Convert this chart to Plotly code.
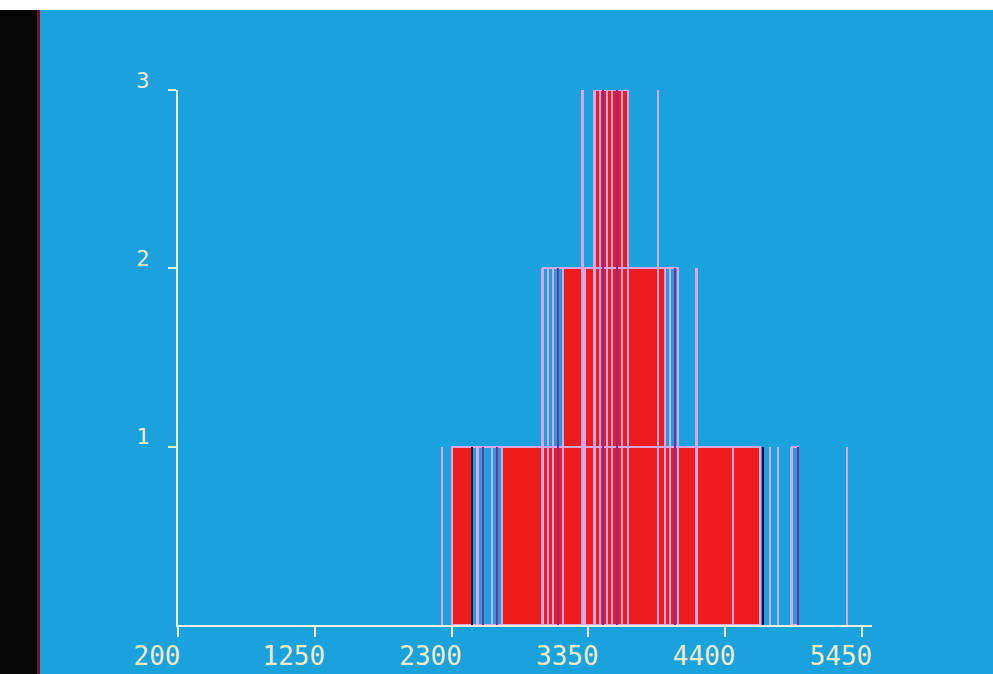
import plotly.graph_objects as go

# ---- data (x in axis units, heights in counts) ----
x_tick_vals = [200, 1250, 2300, 3350, 4400, 5450]
y_tick_vals = [1, 2, 3]

# filled red blocks: left edge, right edge, height
block_left = [2303, 2687, 4460, 3155, 3324, 3400]
block_right = [2456, 4460, 4667, 3324, 3938, 3654]
block_height = [1, 1, 1, 2, 2, 3]

# outline-only groups: left, right, height
outline_left = [2303, 4912, 2999, 3400]
outline_right = [4667, 4958, 4038, 3654]
outline_height = [1, 1, 2, 3]

# thin light lines (value, height)
line_x = [2226, 2303, 2502, 2610, 2687, 4460, 4667, 4744, 4805, 4912, 5335,
          2999, 3040, 3078, 3155, 3324, 3938, 3976, 4038, 4183,
          3308, 3400, 3439, 3493, 3531, 3608, 3654, 3884]
line_h = [1, 1, 1, 1, 1, 1, 1, 1, 1, 1, 1,
          2, 2, 2, 2, 2, 2, 2, 2, 2,
          3, 3, 3, 3, 3, 3, 3, 3]

# purple lines (value, height)
purple_x = [2541, 2648, 4958, 3117, 4015, 3460, 3570]
purple_h = [1, 1, 1, 2, 2, 3, 3]

# very dark lines (value, height)
dark_x = [2456, 4690]
dark_h = [1, 1]

BLUE = "#1aa2dc"
RED = "#ee1c1c"
LAV = "#dba6e6"
PURPLE = "#8a2a9a"
DARK = "#2e0836"
AXIS = "#f3f0dc"
LABEL = "#f1eacb"

fig = go.Figure()

fig.add_trace(go.Bar(
    x=[(l + r) / 2 for l, r in zip(block_left, block_right)],
    width=[r - l for l, r in zip(block_left, block_right)],
    y=block_height, base=0,
    marker=dict(color=RED, line=dict(color=LAV, width=2)),
    hoverinfo="skip", showlegend=False))

fig.add_trace(go.Bar(
    x=[(l + r) / 2 for l, r in zip(outline_left, outline_right)],
    width=[r - l for l, r in zip(outline_left, outline_right)],
    y=outline_height, base=0,
    marker=dict(color="rgba(0,0,0,0)", line=dict(color=LAV, width=2)),
    hoverinfo="skip", showlegend=False))

fig.add_trace(go.Bar(
    x=line_x, y=line_h, base=0, width=[22] * len(line_x),
    marker=dict(color=LAV, line=dict(width=0)),
    hoverinfo="skip", showlegend=False))

fig.add_trace(go.Bar(
    x=purple_x, y=purple_h, base=0, width=[18] * len(purple_x),
    marker=dict(color=PURPLE, line=dict(width=0)),
    hoverinfo="skip", showlegend=False))

fig.add_trace(go.Bar(
    x=dark_x, y=dark_h, base=0, width=[18] * len(dark_x),
    marker=dict(color=DARK, line=dict(width=0)),
    hoverinfo="skip", showlegend=False))

W, H = 993, 674
L, R, T, B = 178, 121, 90, 49
pw, ph = W - L - R, H - T - B


def px_x(p):
    return (p - L) / pw


def px_y(p):
    return (H - B - p) / ph


shapes = [
    # black strip on the left of the screen photo
    dict(type="rect", xref="paper", yref="paper", x0=px_x(0), x1=px_x(38),
         y0=px_y(H), y1=px_y(0), fillcolor="#050505", line=dict(width=0), layer="above"),
    dict(type="rect", xref="paper", yref="paper", x0=px_x(37), x1=px_x(40),
         y0=px_y(H), y1=px_y(10), fillcolor="#7a1010", line=dict(width=0), layer="above"),
    # white band on top
    dict(type="rect", xref="paper", yref="paper", x0=px_x(0), x1=px_x(W),
         y0=px_y(10), y1=px_y(0), fillcolor="#ffffff", line=dict(width=0), layer="above"),
]

fig.update_layout(
    width=W, height=H,
    margin=dict(l=L, r=R, t=T, b=B, autoexpand=False),
    paper_bgcolor=BLUE, plot_bgcolor=BLUE,
    barmode="overlay", bargap=0,
    shapes=shapes,
    font=dict(family="DejaVu Sans Mono", color=LABEL),
    xaxis=dict(range=[200, 5527], tickvals=x_tick_vals,
               ticktext=[str(v) for v in x_tick_vals],
               showgrid=False, zeroline=False, showline=True, linecolor=AXIS, linewidth=2,
               ticks="outside", ticklen=10, tickwidth=2, tickcolor=AXIS,
               tickfont=dict(size=26, color=LABEL, family="DejaVu Sans Mono"),
               ticklabelstandoff=-3, ticklabelshift=-21, fixedrange=True),
    yaxis=dict(range=[0, 3], tickvals=y_tick_vals,
               ticktext=[str(v) for v in y_tick_vals],
               showgrid=False, zeroline=False, showline=True, linecolor=AXIS, linewidth=2,
               ticks="outside", ticklen=8, tickwidth=2, tickcolor=AXIS,
               tickfont=dict(size=22, color=LABEL, family="DejaVu Sans Mono"),
               ticklabelstandoff=14, ticklabelshift=-10, fixedrange=True),
)

fig.write_html("out.html", config={"displayModeBar": False},
               post_script="document.body.style.margin='0';document.body.style.overflow='hidden';")
